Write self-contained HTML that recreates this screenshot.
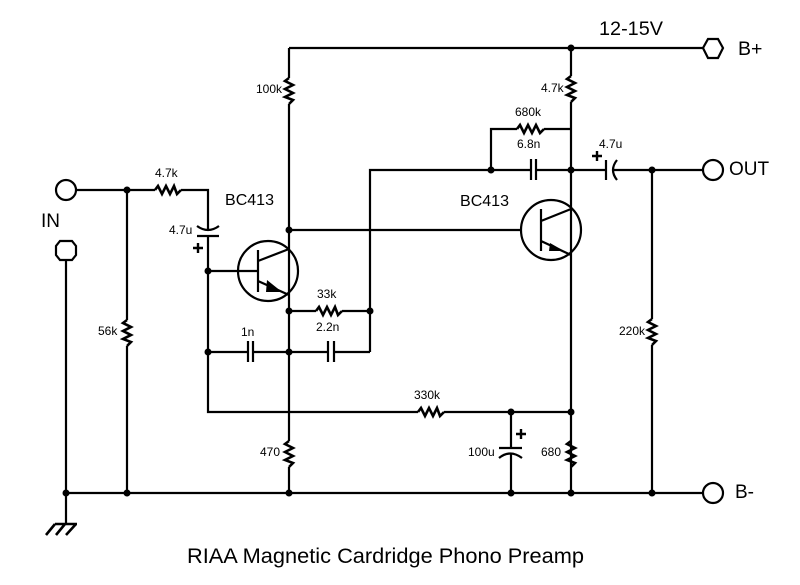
<!DOCTYPE html>
<html><head><meta charset="utf-8"><style>
html,body{margin:0;padding:0;background:#fff;width:800px;height:585px;overflow:hidden}
svg{display:block}
text{font-family:"Liberation Sans",Arial,sans-serif;fill:#000}
.s{font-size:12px}
</style></head><body>
<svg width="800" height="585" viewBox="0 0 800 585" xmlns="http://www.w3.org/2000/svg">
<g fill="none" stroke="#000" stroke-width="2.2">
<!-- wires -->
<path d="M289 48H703M571 48V76M571 102V493M289 48V78M289 104V441M289 467V493"/>
<path d="M76 190H155M181 190H208V230M208 236V412H418M127 190V320M127 346V493"/>
<path d="M66 261V493M66 493H703M66 493V524"/>
<path d="M491 170V129H517M544 129H571M370 352V170H531M536 170H606M613 170H703"/>
<path d="M289 230H521M289 311H316M342 311H370M208 352H248M253 352H328M334 352H370"/>
<path d="M652 170V319M652 345V493M511 412V447M511 453V493M444 412H571"/>
<!-- resistors horizontal -->
<g stroke-width="2.6">
<path d="M155 190L158 186L162 194L166 186L170 194L174 186L177 194L181 190"/>
<path d="M517 129L520 125L524 133L528 125L532 133L536 125L540 133L544 129"/>
<path d="M316 311L319 307L323 315L327 307L331 315L335 307L338 315L342 311"/>
<path d="M418 412L421 408L425 416L429 408L433 416L437 408L440 416L444 412"/>
<!-- resistors vertical -->
<path d="M289 78L285 81L293 85L285 89L293 93L285 97L293 100L289 104"/>
<path d="M571 76L567 79L575 83L567 87L575 91L567 95L575 98L571 102"/>
<path d="M127 320L123 323L131 327L123 331L131 335L123 339L131 342L127 346"/>
<path d="M652 319L648 322L656 326L648 330L656 334L648 338L656 341L652 345"/>
<path d="M289 441L285 444L293 448L285 452L293 456L285 460L293 463L289 467"/>
<path d="M571 441L567 444L575 448L567 452L575 456L567 460L575 463L571 467"/>
</g>
<!-- capacitors -->
<path d="M197 236H219M197 226Q208 234 219 226"/>
<path d="M248 341V362M253 341V362"/>
<path d="M328 341V362M334 341V362"/>
<path d="M531 159V180M536 159V180"/>
<path d="M606 160V180M617 160Q609 170 617 180"/>
<path d="M499 448H522M499 458Q510 449 522 458"/>
<!-- terminals -->
<circle cx="66" cy="190" r="10"/>
<path d="M60 241H72L76 246V255L72 260H60L56 255V246Z"/>
<path d="M703 48L708 39H718L723 48L718 58H708Z"/>
<circle cx="713" cy="170" r="10"/>
<circle cx="713" cy="493" r="10"/>
<!-- transistors -->
<circle cx="268" cy="271" r="30"/>
<path d="M208 271H258M258 250V292M258 261L289 249M258 281L289 295"/>
<circle cx="551" cy="230" r="30"/>
<path d="M541 209V251M541 221L571 209M541 241L571 255"/>
<!-- ground -->
<path d="M55 524H77M55 524L46 535M65 524L56 535M76 524L66 535" stroke-width="2.6"/>
<!-- plus -->
<path d="M193 248H203M198 243V253M592 156H602M597 151V161M516 434H526M521 429V439" stroke-width="2.4"/>
</g>
<g fill="#000">
<path d="M267 280L282 292L266 292Z"/>
<path d="M550 243L564 251L549 251Z"/>
<circle cx="127" cy="190" r="3.5"/><circle cx="208" cy="271" r="3.5"/><circle cx="208" cy="352" r="3.5"/>
<circle cx="289" cy="230" r="3.5"/><circle cx="289" cy="311" r="3.5"/><circle cx="370" cy="311" r="3.5"/>
<circle cx="289" cy="352" r="3.5"/><circle cx="571" cy="48" r="3.5"/><circle cx="491" cy="170" r="3.5"/>
<circle cx="571" cy="170" r="3.5"/><circle cx="652" cy="170" r="3.5"/><circle cx="511" cy="412" r="3.5"/>
<circle cx="571" cy="412" r="3.5"/><circle cx="66" cy="493" r="3.5"/><circle cx="127" cy="493" r="3.5"/>
<circle cx="289" cy="493" r="3.5"/><circle cx="511" cy="493" r="3.5"/><circle cx="571" cy="493" r="3.5"/>
<circle cx="652" cy="493" r="3.5"/>
</g>
<text class="s" x="155" y="177">4.7k</text>
<text class="s" x="169" y="234">4.7u</text>
<text class="s" x="98" y="335">56k</text>
<text class="s" x="256" y="93">100k</text>
<text class="s" x="541" y="92">4.7k</text>
<text class="s" x="515" y="116">680k</text>
<text class="s" x="517" y="148">6.8n</text>
<text class="s" x="599" y="148">4.7u</text>
<text class="s" x="317" y="298">33k</text>
<text class="s" x="316" y="331">2.2n</text>
<text class="s" x="241" y="336">1n</text>
<text class="s" x="414" y="399">330k</text>
<text class="s" x="468" y="456">100u</text>
<text class="s" x="541" y="456">680</text>
<text class="s" x="260" y="456">470</text>
<text class="s" x="619" y="335">220k</text>
<text x="225" y="205" font-size="16" textLength="49" lengthAdjust="spacingAndGlyphs">BC413</text>
<text x="460" y="206" font-size="16" textLength="49" lengthAdjust="spacingAndGlyphs">BC413</text>
<text x="41" y="227" font-size="19">IN</text>
<text x="599" y="35" font-size="19.5" textLength="64" lengthAdjust="spacingAndGlyphs">12-15V</text>
<text x="738" y="55" font-size="19.5">B+</text>
<text x="729" y="175" font-size="19">OUT</text>
<text x="735" y="498" font-size="19">B-</text>
<text x="187" y="563" font-size="21" textLength="397" lengthAdjust="spacingAndGlyphs">RIAA Magnetic Cardridge Phono Preamp</text>
</svg>
</body></html>
